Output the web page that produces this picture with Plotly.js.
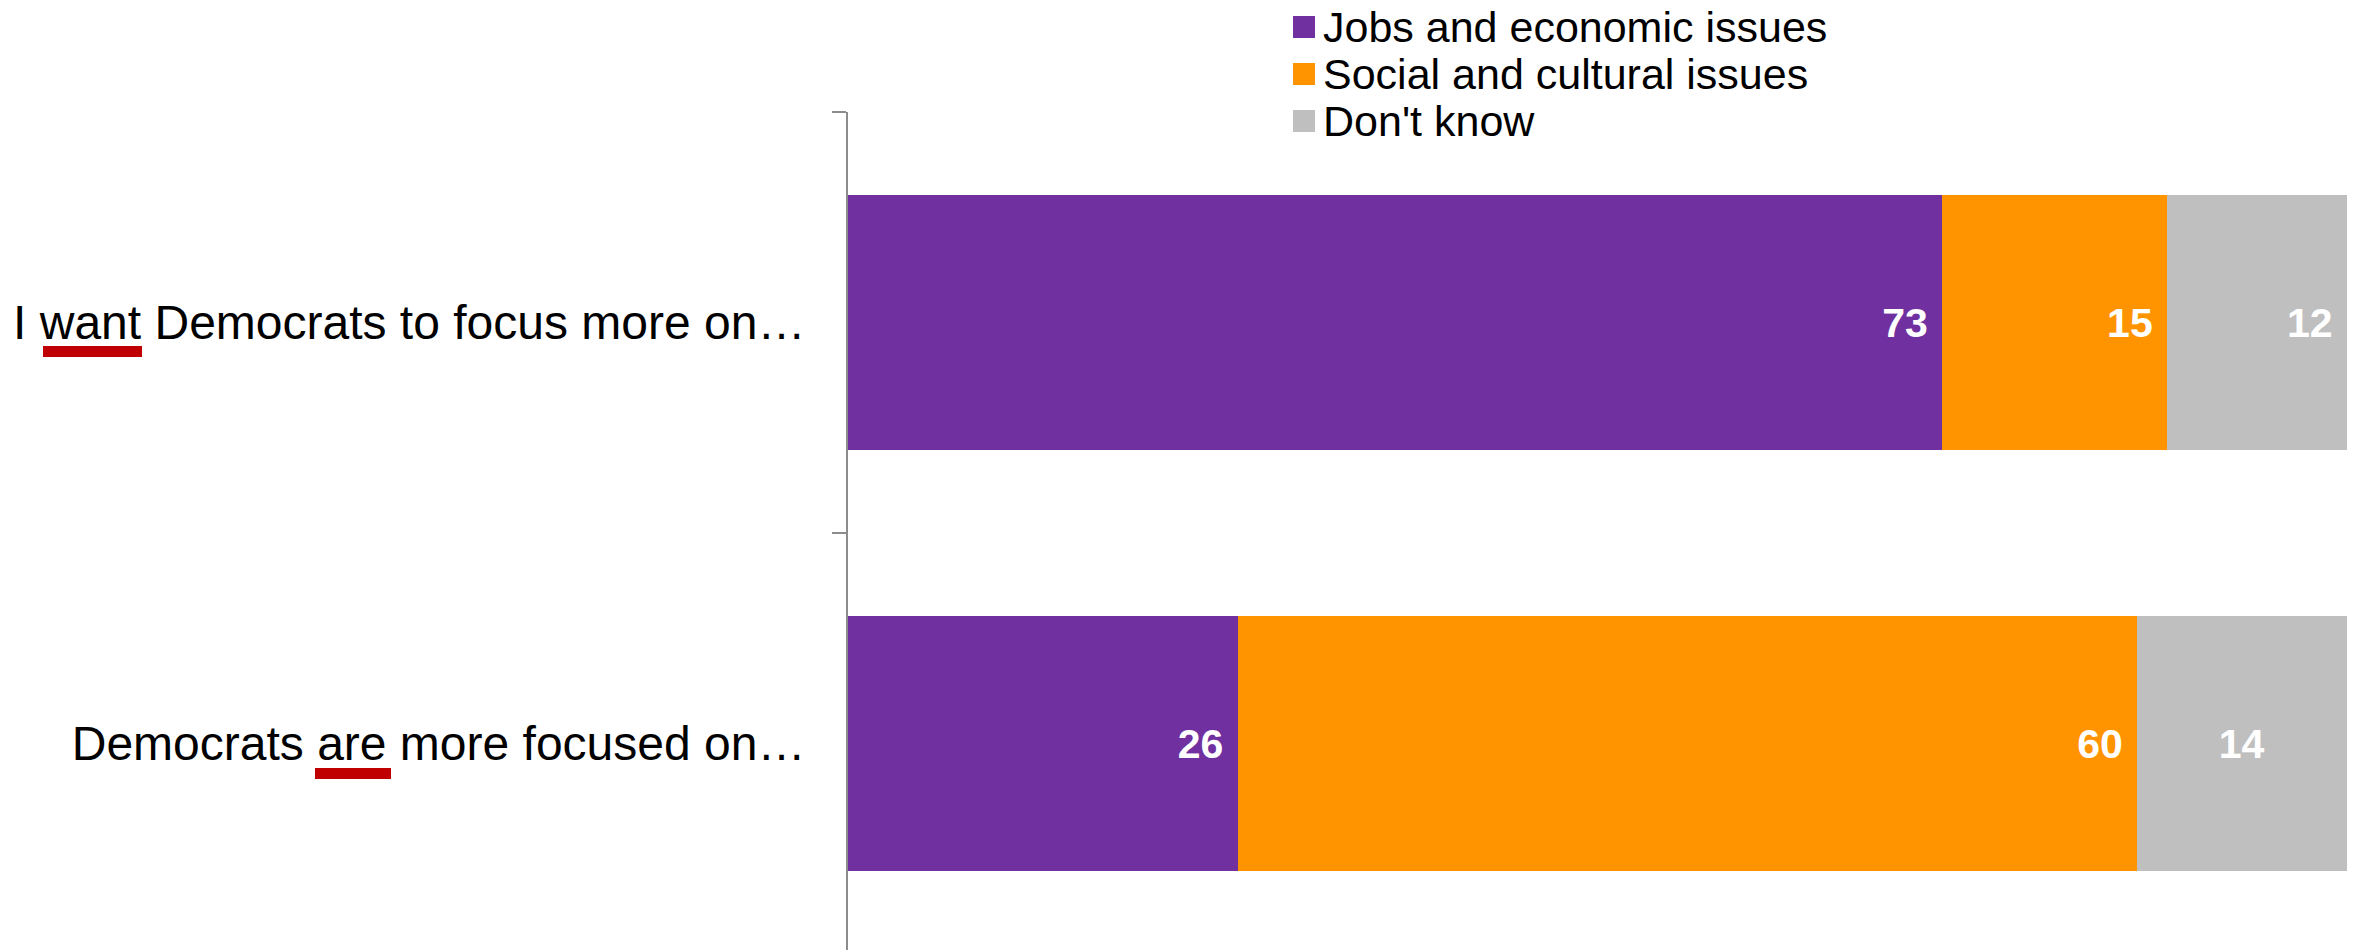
<!DOCTYPE html>
<html>
<head>
<meta charset="utf-8">
<script src="https://cdn.plot.ly/plotly-3.0.1.min.js"></script>
<style>
  html, body { margin: 0; padding: 0; background: #ffffff; }
  #chart { width: 2356px; height: 950px; }
</style>
</head>
<body>
<div id="chart"></div>
<script>
// ---- data ----
const categories = ["I want Democrats to focus more on…", "Democrats are more focused on…"];
const seriesNames = ["Jobs and economic issues", "Social and cultural issues", "Don't know"];
const jobsValues = [73, 26];
const socialValues = [15, 60];
const dontKnowValues = [12, 14];

// ---- styling ----
const colors = ["#7030A0", "#FF9400", "#BFBFBF"];
const FONT = "Arial, 'Liberation Sans', Helvetica, sans-serif";
const W = 2356, H = 950, L = 848, R = 9, T = 112, B = 0;
const PW = W - L - R, PH = H - T - B;
const px = p => (p - L) / PW;
const py = p => (H - B - p) / PH;
const NB = "\u00a0";
// trailing padding (in no-break spaces) of each inside label, per series and per row
const labelPad = [[1, 1], [1, 1], [1, 7]];

const allValues = [jobsValues, socialValues, dontKnowValues];
const traces = allValues.map((vals, s) => ({
  type: "bar",
  orientation: "h",
  name: seriesNames[s],
  x: vals,
  y: categories,
  marker: { color: colors[s], line: { width: 0 } },
  text: vals.map((v, i) => String(v) + NB.repeat(labelPad[s][i])),
  textposition: "inside",
  insidetextanchor: "end",
  textangle: 0,
  textfont: { family: FONT, size: 41, color: "#ffffff", weight: "bold" },
  hoverinfo: "x+name",
  showlegend: false,
  cliponaxis: false
}));

const shapes = [];
const annotations = [];
// manual legend (larger swatches than the built-in legend allows)
const legendRowCenters = [27, 74, 121];
seriesNames.forEach((nm, s) => {
  const c = legendRowCenters[s];
  shapes.push({
    type: "rect", xref: "paper", yref: "paper",
    x0: px(1293), x1: px(1315), y0: py(c + 11), y1: py(c - 11),
    fillcolor: colors[s], line: { width: 0 }
  });
  annotations.push({
    xref: "paper", yref: "paper", x: px(1321), y: py(c),
    xanchor: "left", yanchor: "middle", showarrow: false,
    text: nm, font: { family: FONT, size: 43, color: "#000000" }
  });
});
// red emphasis underlines under "want" and "are"
const underlines = [[43, 142, 346, 357], [315, 391, 768, 779]];
underlines.forEach(u => shapes.push({
  type: "rect", xref: "paper", yref: "paper",
  x0: px(u[0]), x1: px(u[1]), y0: py(u[3]), y1: py(u[2]),
  fillcolor: "#C00000", line: { width: 0 }
}));

const layout = {
  width: W, height: H,
  margin: { l: L, r: R, t: T, b: B, pad: 0 },
  paper_bgcolor: "#ffffff",
  plot_bgcolor: "#ffffff",
  barmode: "stack",
  bargap: 0.394,
  showlegend: false,
  font: { family: FONT, color: "#000000" },
  xaxis: { range: [0, 100], visible: false, fixedrange: true },
  yaxis: {
    type: "category",
    range: [1.4905, -0.5],
    showline: true, linecolor: "#8C8C8C", linewidth: 2,
    ticks: "outside", ticklen: 14, tickwidth: 2, tickcolor: "#8C8C8C",
    tickson: "boundaries",
    showgrid: false, zeroline: false,
    ticklabelstandoff: 31,
    tickfont: { family: FONT, size: 48, color: "#000000" },
    automargin: false, fixedrange: true
  },
  shapes: shapes,
  annotations: annotations
};

Plotly.newPlot("chart", traces, layout, { displayModeBar: false, staticPlot: true });
</script>
</body>
</html>
